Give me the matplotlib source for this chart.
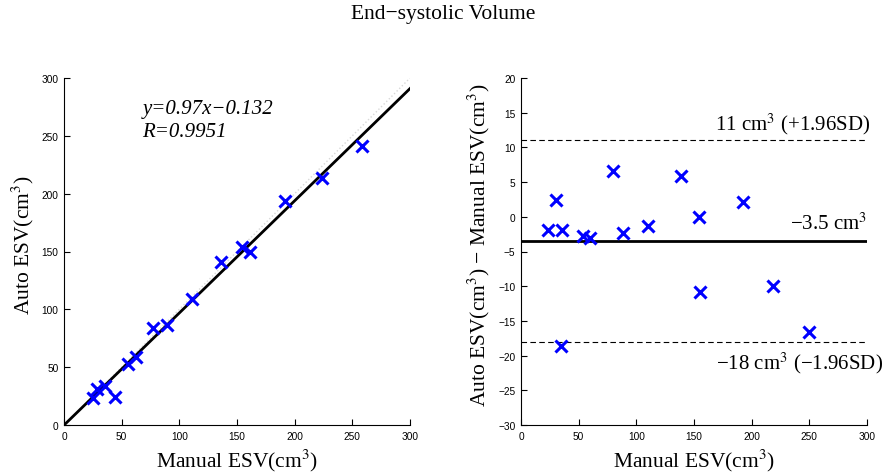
import matplotlib
matplotlib.use("Agg")
import matplotlib.pyplot as plt
import numpy as np

# Left panel: Manual vs Auto ESV
manual_esv = [25.4, 28.9, 35.5, 44.2, 55.2, 62.1, 77.5, 89.6, 110.7, 135.8, 154.6, 161.3, 191.6, 223.7, 258.1]
auto_esv = [23.1, 31.0, 34.0, 24.5, 52.7, 58.5, 83.6, 86.7, 109.0, 141.0, 154.0, 149.9, 193.4, 213.2, 241.0]
fit_slope = 0.97
fit_intercept = -0.132

# Right panel: Bland-Altman
ba_mean = [23.7, 30.1, 35.3, 54.0, 59.8, 80.0, 88.2, 109.8, 138.7, 154.6, 155.2, 192.8, 218.2, 250.0, 34.4]
ba_diff = [-1.86, 2.47, -1.9, -2.7, -3.1, 6.64, -2.33, -1.28, 5.92, -0.08, -10.9, 2.09, -9.9, -16.6, -18.66]
mean_diff = -3.5
upper_loa = 11.1
lower_loa = -18.1

xticks = [0, 50, 100, 150, 200, 250, 300]
yticks_left = [0, 50, 100, 150, 200, 250, 300]
yticks_right = [-30, -25, -20, -15, -10, -5, 0, 5, 10, 15, 20]

plt.rcParams['mathtext.fontset'] = 'stix'
serif = ['Liberation Serif', 'DejaVu Serif']
sans = ['Liberation Sans', 'DejaVu Sans']

fig = plt.figure(figsize=(8.86, 4.77), dpi=100)
ax1 = fig.add_axes([64/886, 1-426/477, 346/886, 347/477])
ax2 = fig.add_axes([521/886, 1-426/477, 346/886, 347/477])

def style(ax):
    for s in ['top', 'right']:
        ax.spines[s].set_visible(False)
    ax.tick_params(direction='in', length=4, labelsize=7.3, width=0.8, pad=4)
    for lab in ax.get_xticklabels() + ax.get_yticklabels():
        lab.set_family(sans)

# Left
xx = np.array([0, 300])
ax1.plot(xx, xx, ':', color='#d8d8d8', lw=1)
ax1.plot(xx, fit_slope * xx + fit_intercept, '-', color='black', lw=2)
ax1.plot(manual_esv, auto_esv, 'x', color='#0000ff', ms=9, mew=2.2, ls='none')
ax1.set_xlim(0, 300)
ax1.set_ylim(0, 300)
ax1.set_xticks(xticks)
ax1.set_yticks(yticks_left)
style(ax1)
ax1.set_xlabel('Manual ESV(cm$^3$)', family=serif, fontsize=15.5)
ax1.set_ylabel('Auto ESV(cm$^3$)', family=serif, fontsize=15.5)
ax1.xaxis.set_label_coords(0.5, -0.062)
ax1.yaxis.set_label_coords(-0.08, 0.52)
ax1.text(68, 274, 'y=0.97x\u22120.132', family=serif, style='italic', fontsize=15, va='center')
ax1.text(68, 254, 'R=0.9951', family=serif, style='italic', fontsize=15, va='center')

# Right
ax2.axhline(mean_diff, color='black', lw=2)
ax2.axhline(upper_loa, color='black', lw=0.8, ls=(0, (5, 3)))
ax2.axhline(lower_loa, color='black', lw=0.8, ls=(0, (5, 3)))
ax2.plot(ba_mean, ba_diff, 'x', color='#0000ff', ms=9, mew=2.2, ls='none')
ax2.set_xlim(0, 300)
ax2.set_ylim(-30, 20)
ax2.set_xticks(xticks)
ax2.set_yticks(yticks_right)
ax2.set_yticklabels([str(t).replace('-', '\u2212') for t in yticks_right])
style(ax2)
ax2.set_xlabel('Manual ESV(cm$^3$)', family=serif, fontsize=15.5)
ax2.set_ylabel('Auto ESV(cm$^3$) \u2212 Manual ESV(cm$^3$)', family=serif, fontsize=15.5)
ax2.xaxis.set_label_coords(0.5, -0.062)
ax2.yaxis.set_label_coords(-0.085, 0.52)
ax2.text(302.5, upper_loa + 1.45, '11 cm$^3$ (+1.96SD)', family=serif, fontsize=15, ha='right', va='baseline', clip_on=False)
ax2.text(300, mean_diff + 1.75, '\u22123.5 cm$^3$', family=serif, fontsize=15, ha='right', va='baseline', clip_on=False)
ax2.text(314, lower_loa - 3.7, '\u221218 cm$^3$ (\u22121.96SD)', family=serif, fontsize=15, ha='right', va='baseline', clip_on=False)

fig.text(0.5, 1-14/477, 'End\u2212systolic Volume', family=serif, fontsize=15.5, ha='center', va='center')

fig.savefig('out.png', dpi=100)
